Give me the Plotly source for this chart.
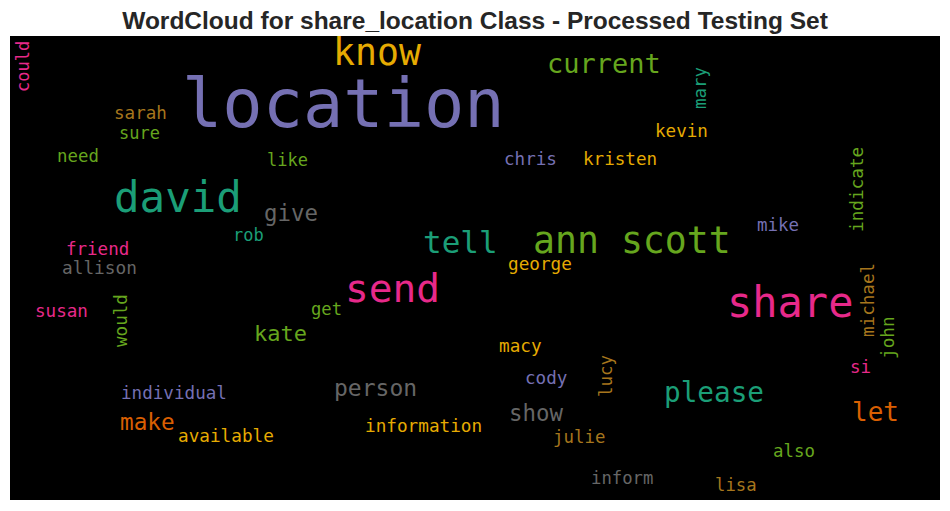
import plotly.graph_objects as go

# word cloud layout (pixel coords of the picture)
words = ["location", "know", "current", "mary", "could", "sarah", "sure", "need", "like",
         "david", "give", "rob", "tell", "friend", "allison", "ann scott", "chris", "kristen",
         "kevin", "mike", "indicate", "george", "send", "share", "susan", "would", "kate",
         "get", "macy", "michael", "john", "si", "lucy", "cody", "person", "individual",
         "please", "show", "let", "make", "available", "information", "julie", "also",
         "inform", "lisa"]
word_x = [343, 377, 604, 700, 23, 140, 139, 78, 287,
          178, 291, 248, 460, 97, 99, 632, 530, 620,
          681, 778, 857, 540, 392, 790, 61, 121, 280,
          326, 520, 868, 888, 860, 606, 546, 375, 174,
          714, 536, 875, 147, 226, 423, 579, 794,
          622, 736]
# baseline for horizontal words, centre for rotated ones
word_y = [129, 66, 73, 88, 67, 120, 139, 162, 166,
          213, 221, 241, 253, 255, 274, 254, 166, 166,
          138, 231, 190, 271, 303, 318, 318, 321, 342,
          315, 353, 300, 338, 373, 376, 385, 397, 400,
          403, 421, 422, 430, 443, 433, 443, 457,
          484, 491]
word_size = [67, 36.5, 27, 17.5, 17, 17.6, 17, 17.4, 17,
             42.5, 22.4, 17, 31, 17.5, 17.8, 36.5, 17.6, 17.6,
             17.6, 17.5, 17.7, 17.7, 39.5, 42, 17.6, 17.6, 22,
             17.2, 17.7, 17.6, 17.7, 17.5, 17.5, 17.6, 23, 17.6,
             27.7, 22.4, 26, 22.7, 17.7, 17.7, 17.4, 17.4,
             17.3, 17.3]
word_rotated = [False, False, False, True, True, False, False, False, False,
                False, False, False, False, False, False, False, False, False,
                False, False, True, False, False, False, False, True, False,
                False, False, True, True, False, True, False, False, False,
                False, False, False, False, False, False, False, False,
                False, False]
word_color = ["#7570b3", "#e6ab02", "#66a61e", "#1b9e77", "#e7298a", "#a6761d", "#66a61e", "#66a61e", "#66a61e",
              "#1b9e77", "#666666", "#1b9e77", "#1b9e77", "#e7298a", "#666666", "#66a61e", "#7570b3", "#e6ab02",
              "#e6ab02", "#7570b3", "#66a61e", "#e6ab02", "#e7298a", "#e7298a", "#e7298a", "#66a61e", "#66a61e",
              "#66a61e", "#e6ab02", "#a6761d", "#66a61e", "#e7298a", "#a6761d", "#7570b3", "#666666", "#7570b3",
              "#1b9e77", "#666666", "#d95f02", "#d95f02", "#e6ab02", "#e6ab02", "#a6761d", "#66a61e",
              "#666666", "#a6761d"]

X0, X1, Y0, Y1 = 10, 940, 36, 500

fig = go.Figure()
fig.add_trace(go.Scatter(x=[X0, X1], y=[Y0, Y1], mode="markers",
                         marker=dict(opacity=0), hoverinfo="skip", showlegend=False))

for w, x, y, s, rot, c in zip(words, word_x, word_y, word_size, word_rotated, word_color):
    # shift horizontal words from baseline to box centre
    yc = y if rot else y - 0.37 * s
    fig.add_annotation(
        x=x, y=yc, text=w, showarrow=False,
        xanchor="center", yanchor="middle",
        textangle=-90 if rot else 0,
        font=dict(family="DejaVu Sans Mono", size=s, color=c),
    )

# page has an 8px body margin, so the figure is a bit smaller than the window
fig.update_layout(
    width=942, height=503,
    margin=dict(l=2, r=10, t=28, b=11),
    paper_bgcolor="white", plot_bgcolor="black",
    title=dict(text="<b>WordCloud for share_location Class - Processed Testing Set</b>",
               x=0.4958, xanchor="center", y=1 - 12 / 503, yanchor="middle",
               font=dict(family="Liberation Sans", size=24.5, color="#262626")),
    xaxis=dict(range=[X0, X1], visible=False, fixedrange=True),
    yaxis=dict(range=[Y1, Y0], visible=False, fixedrange=True),
)

fig.write_html("out.html")
